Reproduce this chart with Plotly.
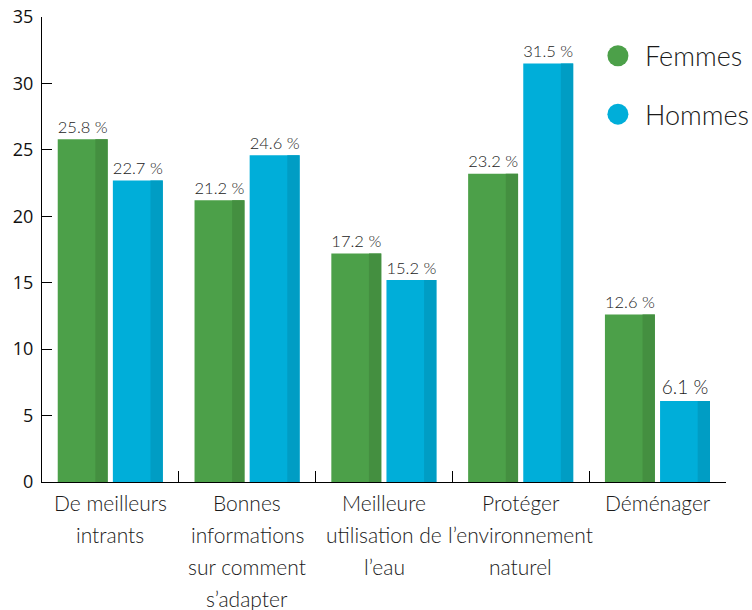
import plotly.graph_objects as go

categories = ["De meilleurs<br>intrants", "Bonnes<br>informations<br>sur comment<br>s’adapter",
              "Meilleure<br>utilisation de<br>l’eau", "Protéger<br>l’environnement<br>naturel", "Déménager"]
femmes = [25.8, 21.2, 17.2, 23.2, 12.6]
hommes = [22.7, 24.6, 15.2, 31.5, 6.1]
series_names = ["Femmes", "Hommes"]

GREEN, GREEN_D = "#4ca049", "#448f40"
BLUE, BLUE_D = "#00aed9", "#009dc4"
FONT = "Lato"
TW = 300

fig = go.Figure()
W, SW = 0.365, 0.09
for vals, off, c, cd in [(femmes, -0.385, GREEN, GREEN_D), (hommes, 0.018, BLUE, BLUE_D)]:
    fig.add_trace(go.Bar(x=categories, y=vals, offset=off, width=W, marker=dict(color=c, line=dict(width=0)),
                         texttemplate="%{y:.1f} %", textposition="outside",
                         textfont=dict(family=FONT, size=19, color="#222222", weight=TW), cliponaxis=False,
                         showlegend=False, hoverinfo="skip"))
    fig.add_trace(go.Bar(x=categories, y=vals, offset=off + W - SW, width=SW,
                         marker=dict(color=cd, line=dict(width=0)), showlegend=False, hoverinfo="skip"))

# category labels as multi-line annotations
for cat in categories:
    for i, line in enumerate(cat.split("<br>")):
        fig.add_annotation(x=cat, xref="x", y=0, yref="paper", yshift=-(20 + 32.3 * i),
                           text=line, showarrow=False, yanchor="middle", xanchor="center",
                           font=dict(family=FONT, size=21, color="#1a1a1a", weight=TW))

# legend
for name, col, yp in [(series_names[0], GREEN, 0.9167), (series_names[1], BLUE, 0.791)]:
    fig.add_shape(type="circle", xref="paper", yref="paper", xsizemode="pixel", ysizemode="pixel",
                  xanchor=0.842, yanchor=yp, x0=-10.5, x1=10.5, y0=-10.5, y1=10.5,
                  fillcolor=col, line=dict(width=0))
    fig.add_annotation(x=0.879, y=yp, xref="paper", yref="paper", text=name, showarrow=False,
                       xanchor="left", yanchor="middle",
                       font=dict(family=FONT, size=27, color="#1a1a1a", weight=TW))

fig.update_layout(
    width=752, height=610, barmode="overlay",
    margin=dict(l=42, r=26, t=17, b=128, autoexpand=False),
    plot_bgcolor="white", paper_bgcolor="white",
    xaxis=dict(type="category", tickson="boundaries", ticks="inside", ticklen=11, tickcolor="black",
               showline=True, linecolor="black", linewidth=1, showticklabels=False, showgrid=False,
               range=[-0.5, 4.5], automargin=False),
    yaxis=dict(range=[0, 35], dtick=5, ticks="inside", ticklen=10, tickcolor="black",
               showline=True, linecolor="black", linewidth=1, showgrid=False, zeroline=False,
               tickfont=dict(family="Open Sans", size=18, color="#111111"), ticklabelstandoff=4,
               automargin=False),
)
fig.write_html("out.html", config={"displayModeBar": False},
               post_script="document.body.style.margin='0';document.body.style.overflow='hidden';")
